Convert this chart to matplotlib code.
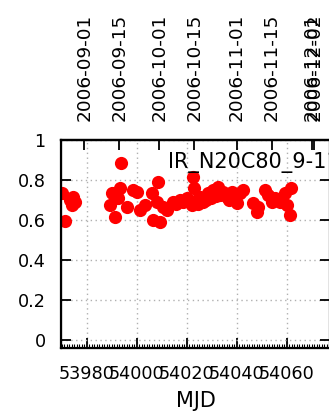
import matplotlib
matplotlib.use('Agg')
import matplotlib.pyplot as plt
from matplotlib.ticker import MultipleLocator

mjd = [53969.9, 53971.2, 53973.2, 53973.9, 53974.5, 53975.2,
       53989.2, 53989.9, 53991.2, 53992.5, 53993.2, 53993.5,
       53995.9, 53998.5, 53999.9, 54001.2, 54003.2, 54005.9,
       54006.5, 54007.9, 54008.5, 54009.2, 54010.5, 54011.9,
       54014.5, 54015.5, 54017.2, 54018.5, 54019.9, 54021.9,
       54022.3, 54022.9, 54023.9, 54024.5, 54025.2, 54026.5,
       54027.5, 54028.5, 54029.5, 54030.5, 54031.5, 54032.5,
       54033.2, 54034.5, 54035.9, 54036.9, 54037.9, 54039.9,
       54041.2, 54042.5, 54046.5, 54047.9, 54048.5, 54051.2,
       54052.5, 54053.9, 54055.2, 54057.2, 54059.2, 54059.9,
       54061.2, 54061.5]
val = [0.733, 0.595, 0.700, 0.675, 0.717, 0.690,
       0.675, 0.733, 0.613, 0.708, 0.758, 0.885,
       0.667, 0.750, 0.742, 0.650, 0.675, 0.733,
       0.600, 0.690, 0.792, 0.592, 0.667, 0.650,
       0.690, 0.680, 0.700, 0.690, 0.708, 0.675,
       0.817, 0.758, 0.700, 0.680, 0.717, 0.690,
       0.700, 0.733, 0.710, 0.750, 0.720, 0.767,
       0.725, 0.740, 0.717, 0.700, 0.742, 0.683,
       0.733, 0.750, 0.683, 0.642, 0.667, 0.750,
       0.725, 0.690, 0.708, 0.690, 0.733, 0.675,
       0.625, 0.758]

date_mjd = [53979, 53993, 54009, 54023, 54040, 54054, 54070, 54071]
date_lbl = ['2006-09-01', '2006-09-15', '2006-10-01', '2006-10-15',
            '2006-11-01', '2006-11-15', '2006-12-01', '2006-12-02']

series_name = 'IR_N20C80_9-11'

fig = plt.figure(figsize=(3.29, 4.15), dpi=100)
ax = fig.add_axes([0.1854, 0.1614, 0.8176, 0.5012])

ax.plot(mjd, val, 'o', color='red', ms=9.5, mec='none', label=series_name)

ax.set_xlim(53969.6, 54077.2)
ax.set_ylim(-0.04, 1.0)
ax.set_yticks([0, 0.2, 0.4, 0.6, 0.8, 1])
ax.set_yticklabels(['0', '0.2', '0.4', '0.6', '0.8', '1'])
ax.set_xticks([53980, 54000, 54020, 54040, 54060])
ax.xaxis.set_minor_locator(MultipleLocator(1))

ax.grid(True, which='major', color='#b0b0b0', linestyle=(0, (1, 2.5)), linewidth=1)
for s in ax.spines.values():
    s.set_linewidth(1.6)

ax.tick_params(axis='both', which='major', direction='in', length=7, width=1.3,
               labelsize=12.7, pad=11, right=True)
ax.tick_params(axis='x', which='minor', direction='in', length=3, width=0.8, top=False)
ax.tick_params(axis='x', which='major', pad=12, top=False)

ax.set_xlabel('MJD', fontsize=15, labelpad=6)

top = ax.twiny()
top.set_xlim(ax.get_xlim())
top.set_xticks(date_mjd)
top.set_xticklabels(date_lbl, rotation=90)
top.tick_params(axis='x', direction='in', length=7, width=1.3, labelsize=13.3, pad=14)
top.spines['top'].set_linewidth(1.6)

ax.legend(loc='center left', bbox_to_anchor=(0.398, 0.894), markerfirst=False,
          frameon=False, borderpad=0, borderaxespad=0, fontsize=15,
          handletextpad=0.6)

fig.savefig('out.png', dpi=100)
